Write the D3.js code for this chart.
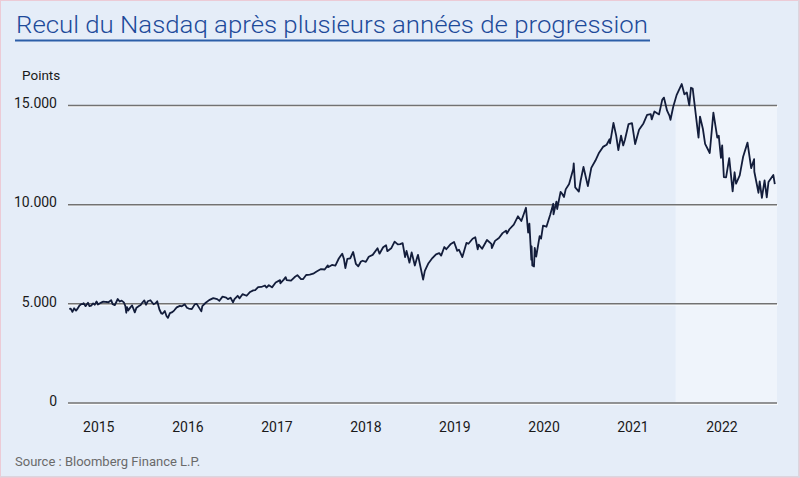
<!DOCTYPE html>
<html>
<head>
<meta charset="utf-8">
<script src="https://cdn.jsdelivr.net/npm/d3@7"></script>
<style>
  html, body { margin: 0; padding: 0; background: #e5edf8; }
  svg { display: block; }
</style>
</head>
<body>
<svg id="chart" width="800" height="478"></svg>
<script>
// ---- Data (Nasdaq Composite, points) ----
const dates = [
"2015-01-02","2015-01-08","2015-01-15","2015-01-22","2015-01-30","2015-02-06","2015-02-13","2015-02-20","2015-02-27","2015-03-02",
"2015-03-10","2015-03-20","2015-03-26","2015-04-02","2015-04-10","2015-04-17","2015-04-24","2015-04-30","2015-05-08","2015-05-15",
"2015-05-22","2015-05-29","2015-06-05","2015-06-12","2015-06-23","2015-06-29","2015-07-08","2015-07-20","2015-07-28","2015-08-05",
"2015-08-14","2015-08-20","2015-08-24","2015-08-27","2015-09-01","2015-09-10","2015-09-17","2015-09-28","2015-10-05","2015-10-15",
"2015-10-22","2015-10-30","2015-11-06","2015-11-13","2015-11-20","2015-12-01","2015-12-14","2015-12-22","2015-12-29",
"2016-01-07","2016-01-15","2016-01-20","2016-01-29","2016-02-05","2016-02-11","2016-02-19","2016-02-29","2016-03-08","2016-03-18",
"2016-03-31","2016-04-08","2016-04-20","2016-04-29","2016-05-06","2016-05-19","2016-05-31","2016-06-08","2016-06-15","2016-06-27",
"2016-07-01","2016-07-15","2016-07-29","2016-08-15","2016-08-31","2016-09-09","2016-09-22","2016-10-07","2016-10-14","2016-10-25",
"2016-11-04","2016-11-10","2016-11-23","2016-12-01","2016-12-13","2016-12-30",
"2017-01-13","2017-01-26","2017-02-03","2017-02-15","2017-02-28","2017-03-15","2017-03-21","2017-03-31","2017-04-13","2017-04-28",
"2017-05-16","2017-05-17","2017-05-31","2017-06-08","2017-06-12","2017-06-30","2017-07-14","2017-07-26","2017-08-10","2017-08-18",
"2017-08-31","2017-09-15","2017-09-29","2017-10-13","2017-10-31","2017-11-15","2017-11-28","2017-11-29","2017-12-15","2017-12-29",
"2018-01-12","2018-01-26","2018-02-02","2018-02-08","2018-02-16","2018-02-28","2018-03-12","2018-03-23","2018-04-02","2018-04-13",
"2018-04-20","2018-05-03","2018-05-15","2018-05-31","2018-06-20","2018-06-28","2018-07-13","2018-07-25","2018-07-30","2018-08-15",
"2018-08-29","2018-09-11","2018-09-21","2018-10-01","2018-10-11","2018-10-17","2018-10-29","2018-11-07","2018-11-20","2018-11-30",
"2018-12-03","2018-12-10","2018-12-24","2018-12-31",
"2019-01-15","2019-01-31","2019-02-15","2019-02-28","2019-03-08","2019-03-21","2019-03-29","2019-04-15","2019-04-30","2019-05-13",
"2019-05-20","2019-06-03","2019-06-20","2019-06-28","2019-07-15","2019-07-26","2019-08-05","2019-08-09","2019-08-23","2019-09-12",
"2019-09-30","2019-10-02","2019-10-15","2019-10-31","2019-11-15","2019-11-29","2019-12-03","2019-12-13","2019-12-31",
"2020-01-17","2020-01-31","2020-02-19","2020-02-28","2020-03-04","2020-03-12","2020-03-13","2020-03-16","2020-03-23","2020-03-26",
"2020-04-01","2020-04-15","2020-04-21","2020-04-29","2020-05-13","2020-05-29","2020-06-10","2020-06-11","2020-06-23","2020-06-26",
"2020-07-10","2020-07-15","2020-07-24","2020-07-31","2020-08-14","2020-08-31","2020-09-02","2020-09-08","2020-09-23","2020-09-30",
"2020-10-12","2020-10-30","2020-11-13","2020-11-30","2020-12-15","2020-12-31",
"2021-01-15","2021-01-27","2021-01-29","2021-02-12","2021-02-23","2021-03-04","2021-03-15","2021-03-24","2021-03-31","2021-04-15",
"2021-04-29","2021-05-12","2021-05-28","2021-06-15","2021-06-30","2021-07-15","2021-07-19","2021-07-30","2021-08-18","2021-08-31",
"2021-09-07","2021-09-20","2021-09-30","2021-10-04","2021-10-15","2021-10-29","2021-11-19","2021-11-30","2021-12-10","2021-12-20",
"2021-12-27",
"2022-01-03","2022-01-13","2022-01-27","2022-02-02","2022-02-14","2022-02-23","2022-03-14","2022-03-29","2022-04-14","2022-04-20",
"2022-04-29","2022-05-04","2022-05-11","2022-05-20","2022-06-02","2022-06-16","2022-06-24","2022-06-30","2022-07-15","2022-07-29",
"2022-08-16","2022-08-31","2022-09-12","2022-09-13","2022-09-30","2022-10-05","2022-10-14","2022-10-25","2022-11-03","2022-11-10",
"2022-11-30","2022-12-06"
];
const values = [
4726,4737,4570,4750,4635,4744,4893,4955,4964,5008,
4859,5026,4863,4886,4996,4932,5092,4941,5003,5048,
5090,5070,5068,5051,5160,4958,4910,5218,5089,5139,
5048,4877,4526,4812,4636,4796,4893,4543,4781,4870,
4920,5054,5147,4927,5104,5156,4952,5001,5107,
4689,4488,4472,4614,4363,4266,4504,4558,4649,4796,
4870,4851,4948,4775,4737,4712,4948,4974,4835,4594,
4863,5030,5162,5262,5213,5126,5339,5292,5214,5283,
5046,5209,5380,5251,5463,5383,
5574,5655,5667,5819,5825,5900,5793,5912,5805,6048,
6169,6011,6198,6321,6175,6140,6312,6422,6216,6216,
6428,6448,6496,6605,6728,6706,6912,6824,6936,6903,
7261,7505,7241,6777,7239,7273,7588,6993,6870,7107,
7146,7088,7351,7442,7781,7503,7826,7932,7630,7774,
8109,7972,7987,8037,7329,7643,7050,7571,6909,7331,
7442,7020,6193,6635,
7023,7282,7472,7533,7408,7838,7729,7976,8095,7647,
7702,7333,8051,8006,8258,8330,7726,7959,7751,8194,
7999,7785,8148,8292,8540,8665,8520,8735,8972,
9388,9150,9817,8567,9018,7201,7875,6904,6860,7797,
7360,8393,8263,8914,8863,9489,10020,9492,10131,9757,
10617,10550,10363,10745,11019,11775,12056,10847,10633,11168,
11876,10912,11829,12199,12595,12888,
12998,13271,13070,14095,13466,12723,13460,12961,13247,14039,
14082,13032,13749,14073,14504,14543,14275,14673,14526,15259,
15374,14714,14449,14255,14897,15498,16057,15538,15630,14980,
15871,
15833,14806,13352,14417,13790,13037,12581,14619,13351,13453,
12335,12964,11364,11354,12317,10646,11608,11029,11452,12391,
13103,11816,12266,11634,10576,11148,10321,11199,10343,11114,
11468,11014
];
const yTicks = [0, 5000, 10000, 15000];
const xTickYears = [2015, 2016, 2017, 2018, 2019, 2020, 2021, 2022];
const shadeStart = "2021-10-25";
const domainStart = "2015-01-01";
const domainEnd = "2022-12-15";
const titleText = "Recul du Nasdaq après plusieurs années de progression";
const unitText = "Points";
const sourceText = "Source : Bloomberg Finance L.P.";

// ---- Setup ----
const W = 800, H = 478;
const plotRight = 777;
const svg = d3.select("#chart");
const parse = d3.timeParse("%Y-%m-%d");
const data = dates.map((d, i) => ({ date: parse(d), value: values[i] }));
const FONT = "Roboto, 'Noto Sans', sans-serif";

const x = d3.scaleTime()
  .domain([parse(domainStart), parse(domainEnd)])
  .range([69, plotRight]);
const y = d3.scaleLinear()
  .domain([0, 15000])
  .range([402.5, 105]);

const locale = d3.formatLocale({ decimal: ",", thousands: ".", grouping: [3], currency: ["", "€"] });
const fmt = locale.format(",.0f");

// background
svg.append("rect").attr("x", 0).attr("y", 0).attr("width", W).attr("height", H).attr("fill", "#e5edf8");

// shaded period
svg.append("rect")
  .attr("x", x(parse(shadeStart)))
  .attr("y", y(15000))
  .attr("width", plotRight - x(parse(shadeStart)))
  .attr("height", y(0) - y(15000))
  .attr("fill", "#eff4fb");

// gridlines (with white highlight beneath)
svg.append("g").selectAll("line").data(yTicks).join("line")
  .attr("x1", 68).attr("x2", plotRight + 1)
  .attr("y1", d => y(d) + 1.6).attr("y2", d => y(d) + 1.6)
  .attr("stroke", "#ffffff").attr("stroke-width", 1.2);

const yAxis = d3.axisLeft(y)
  .tickValues(yTicks)
  .tickFormat(fmt)
  .tickSize(-(plotRight - 68))
  .tickPadding(11);
const yg = svg.append("g").attr("transform", "translate(68,0)").call(yAxis);
yg.select(".domain").remove();
yg.selectAll(".tick line").attr("stroke", "#727272").attr("stroke-width", 1.5);
yg.selectAll(".tick text")
  .attr("fill", "#1a1a1a")
  .style("font-family", FONT)
  .style("font-size", "14px")
  .attr("dy", "0.2em");

// x axis labels
const xAxis = d3.axisBottom(x)
  .tickValues(xTickYears.map(yr => new Date(yr, 4, 1)))
  .tickFormat(d3.timeFormat("%Y"))
  .tickSize(0)
  .tickPadding(19.5);
const xg = svg.append("g").attr("transform", `translate(0,${y(0)})`).call(xAxis);
xg.select(".domain").remove();
xg.selectAll(".tick text")
  .attr("fill", "#1a1a1a")
  .style("font-family", FONT)
  .style("font-size", "14px");

// line
const line = d3.line()
  .x(d => x(d.date))
  .y(d => y(d.value));
svg.append("path")
  .datum(data)
  .attr("d", line)
  .attr("fill", "none")
  .attr("stroke", "#131d3b")
  .attr("stroke-width", 1.8)
  .attr("stroke-linejoin", "round");

// title
svg.append("text")
  .attr("x", 16).attr("y", 33)
  .attr("fill", "#1d4a9a")
  .style("font-family", FONT)
  .style("font-weight", "300")
  .style("font-size", "24px")
  .attr("textLength", 632)
  .attr("lengthAdjust", "spacingAndGlyphs")
  .text(titleText);
svg.append("line")
  .attr("x1", 15).attr("x2", 650).attr("y1", 40.5).attr("y2", 40.5)
  .attr("stroke", "#2c5ea8").attr("stroke-width", 2);

// unit label
svg.append("text")
  .attr("x", 22).attr("y", 80)
  .attr("fill", "#1a1a1a")
  .style("font-family", FONT)
  .style("font-size", "13.5px")
  .text(unitText);

// source
svg.append("text")
  .attr("x", 15).attr("y", 466)
  .attr("fill", "#6a6a6a")
  .style("font-family", FONT)
  .style("font-size", "13px")
  .text(sourceText);

// border
svg.append("rect")
  .attr("x", 0.5).attr("y", 0.5).attr("width", W - 1).attr("height", H - 1)
  .attr("fill", "none").attr("stroke", "#eccbd6").attr("stroke-width", 1);
svg.append("line").attr("x1", W - 1.5).attr("x2", W - 1.5).attr("y1", 0).attr("y2", H)
  .attr("stroke", "#dcd5de").attr("stroke-width", 1);
svg.append("line").attr("x1", 0).attr("x2", W).attr("y1", H - 1.5).attr("y2", H - 1.5)
  .attr("stroke", "#dcd5de").attr("stroke-width", 1);
</script>
</body>
</html>
